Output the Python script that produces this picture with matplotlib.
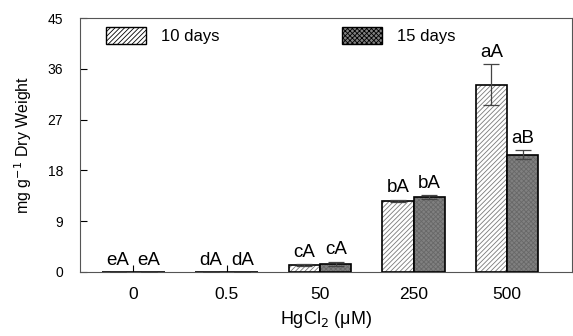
import matplotlib
matplotlib.use("Agg")
import matplotlib.pyplot as plt
import numpy as np
from matplotlib.patches import Patch

plt.rcParams['font.family'] = ['Liberation Sans', 'DejaVu Sans']
plt.rcParams['hatch.linewidth'] = 0.6

categories = ['0', '0.5', '50', '250', '500']
days10 = [0.0, 0.0, 1.25, 12.6, 33.2]
days10_err = [0.0, 0.0, 0.1, 0.2, 3.6]
days15 = [0.0, 0.0, 1.4, 13.3, 20.8]
days15_err = [0.0, 0.0, 0.4, 0.35, 0.8]
labels10 = ['eA', 'dA', 'cA', 'bA', 'aA']
labels15 = ['eA', 'dA', 'cA', 'bA', 'aB']
yticks = [0, 9, 18, 27, 36, 45]

fig = plt.figure(figsize=(5.73, 3.36), dpi=100)
ax = fig.add_axes([0.1396, 0.1905, 0.8584, 0.7555])

x = np.arange(len(categories))
w = 0.335
b1 = ax.bar(x - w/2, days10, w, color='white', edgecolor='black', linewidth=1.2,
            hatch='///////', zorder=3)
b2 = ax.bar(x + w/2, days15, w, color='#808080', edgecolor='black', linewidth=1.2,
            hatch='xxxxxxx', zorder=3)
for p in b1:
    p._hatch_color = matplotlib.colors.to_rgba('#7a7a7a')
for p in b2:
    p._hatch_color = matplotlib.colors.to_rgba('#686868')

ax.errorbar(x - w/2, days10, yerr=days10_err, fmt='none', ecolor='#444444',
            elinewidth=0.9, capsize=5.8, capthick=0.9, zorder=4)
ax.errorbar(x + w/2, days15, yerr=days15_err, fmt='none', ecolor='#444444',
            elinewidth=0.9, capsize=5.8, capthick=0.9, zorder=4)

for i in range(len(categories)):
    ax.text(x[i] - w/2, days10[i] + days10_err[i] + 0.6, labels10[i],
            ha='center', va='bottom', fontsize=13.5)
    ax.text(x[i] + w/2, days15[i] + days15_err[i] + 0.6, labels15[i],
            ha='center', va='bottom', fontsize=13.5)

ax.set_xlim(-0.57, 4.695)
ax.set_ylim(0, 45)
ax.set_yticks(yticks)
ax.set_xticks(x)
ax.set_xticklabels(categories, fontsize=12.5)
ax.tick_params(axis='y', labelsize=10, direction='in', length=5, width=0.8, pad=12)
ax.tick_params(axis='x', direction='in', length=5, width=0.8, pad=11)
for s in ax.spines.values():
    s.set_linewidth(0.8)
    s.set_color('#555555')

ax.set_ylabel('mg g$^{-1}$ Dry Weight', fontsize=11.5, labelpad=10)
ax.set_xlabel('HgCl$_2$ (\u03bcM)', fontsize=13, labelpad=5)

h1 = Patch(facecolor='white', edgecolor='black', hatch='///////', linewidth=1.0)
h2 = Patch(facecolor='#808080', edgecolor='black', hatch='xxxxxxx', linewidth=1.0)
leg = ax.legend([h1, h2], ['10 days', '15 days'], ncol=2, frameon=False,
                loc='upper left', bbox_to_anchor=(0.022, 1.025), fontsize=12,
                handlelength=2.4, handleheight=1.2, columnspacing=7.35,
                handletextpad=0.9)

fig.savefig('out.png', dpi=100)
